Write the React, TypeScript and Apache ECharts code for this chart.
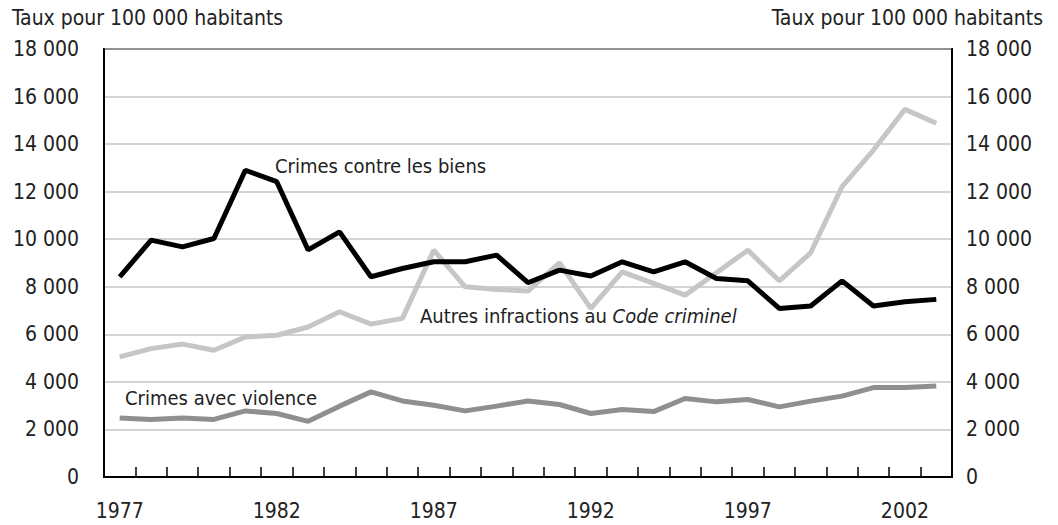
import React, { useEffect, useRef } from "react";
import * as echarts from "echarts";

const years = [
  "1977","1978","1979","1980","1981","1982","1983","1984","1985","1986",
  "1987","1988","1989","1990","1991","1992","1993","1994","1995","1996",
  "1997","1998","1999","2000","2001","2002","2003",
];

const crimesBiens = [
  8420, 9960, 9680, 10030, 12900, 12420, 9550, 10310, 8420, 8770,
  9050, 9050, 9330, 8170, 8700, 8450, 9050, 8630, 9050, 8350,
  8250, 7090, 7190, 8250, 7190, 7370, 7470,
];

const autresInfractions = [
  5050, 5400, 5590, 5330, 5890, 5960, 6310, 6950, 6430, 6670,
  9540, 8000, 7890, 7820, 9010, 7090, 8630, 8140, 7650, 8590,
  9540, 8250, 9430, 12210, 13750, 15460, 14880,
];

const crimesViolence = [
  2480, 2420, 2480, 2420, 2780, 2670, 2340, 2980, 3580, 3200,
  3020, 2780, 2980, 3200, 3050, 2670, 2840, 2750, 3300, 3160,
  3260, 2950, 3190, 3400, 3760, 3760, 3830,
];

const axisTitle = "Taux pour 100 000 habitants";
const FONT = "'Liberation Sans Narrow', 'DejaVu Sans Condensed', 'Arial Narrow', 'DejaVu Sans', sans-serif";

const fmt = (v: number) => (v === 0 ? "0" : String(v).replace(/\B(?=(\d{3})+(?!\d))/g, " "));

export default function App() {
  const ref = useRef<HTMLDivElement>(null);
  useEffect(() => {
    document.body.style.margin = "0";
    const chart = echarts.init(ref.current!, null, { renderer: "svg" });
    const yCommon = {
      type: "value" as const,
      min: 0,
      max: 18000,
      interval: 2000,
      splitLine: { show: false },
      axisTick: { show: false },
      axisLine: { show: true, lineStyle: { color: "#000", width: 2 } },
      axisLabel: {
        formatter: fmt,
        fontFamily: FONT,
        fontSize: 21,
        color: "#222",
      },
    };
    chart.setOption({
      animation: false,
      backgroundColor: "#fff",
      grid: {
        left: 104,
        right: 106,
        top: 49,
        bottom: 48,
        show: true,
        borderColor: "#000",
        borderWidth: 2,
      },
      xAxis: {
        type: "category",
        data: years,
        boundaryGap: true,
        axisLine: { show: true, lineStyle: { color: "#000", width: 2 } },
        axisTick: { show: true, inside: true, length: 10, interval: 0, lineStyle: { color: "#000", width: 1.5 } },
        axisLabel: {
          interval: 4,
          margin: 23,
          fontFamily: FONT,
          fontSize: 21,
          color: "#222",
        },
      },
      yAxis: [
        {
          ...yCommon,
          position: "left",
          axisLabel: { ...yCommon.axisLabel, margin: 25 },
          splitLine: { show: true, lineStyle: { color: "#c4c4c4", width: 1.5 } },
        },
        {
          ...yCommon,
          position: "right",
          axisLabel: { ...yCommon.axisLabel, margin: 14 },
        },
      ],
      graphic: [
        {
          type: "text",
          left: 12,
          top: 7,
          style: { text: axisTitle, fontFamily: FONT, fontSize: 21, fill: "#222" },
        },
        {
          type: "text",
          right: 15,
          top: 7,
          style: { text: axisTitle, fontFamily: FONT, fontSize: 21, fill: "#222" },
        },
        {
          type: "text",
          left: 275,
          top: 156,
          style: { text: "Crimes contre les biens", fontFamily: FONT, fontSize: 20, fill: "#222" },
        },
        {
          type: "text",
          left: 420,
          top: 306,
          style: {
            text: "{n|Autres infractions au }{i|Code criminel}",
            fontFamily: FONT,
            fontSize: 20,
            fill: "#222",
            rich: {
              n: { fontFamily: FONT, fontSize: 20, color: "#222" },
              i: { fontFamily: FONT, fontSize: 20, color: "#222", fontStyle: "italic" },
            },
          },
        },
        {
          type: "text",
          left: 125,
          top: 388,
          style: { text: "Crimes avec violence", fontFamily: FONT, fontSize: 20, fill: "#222" },
        },
      ],
      series: [
        {
          name: "Crimes avec violence",
          type: "line",
          data: crimesViolence,
          symbol: "none",
          lineStyle: { color: "#8f8f8f", width: 5 },
          z: 3,
        },
        {
          name: "Autres infractions au Code criminel",
          type: "line",
          data: autresInfractions,
          symbol: "none",
          lineStyle: { color: "#c6c6c6", width: 5 },
          z: 3,
        },
        {
          name: "Crimes contre les biens",
          type: "line",
          data: crimesBiens,
          symbol: "none",
          lineStyle: { color: "#000", width: 5 },
          z: 4,
        },
      ],
    });
    return () => chart.dispose();
  }, []);
  return <div ref={ref} style={{ width: 1058, height: 525 }} />;
}
